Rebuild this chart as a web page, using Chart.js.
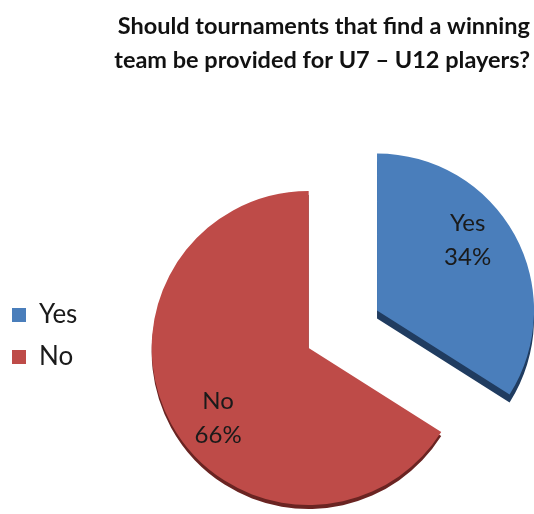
<!DOCTYPE html>
<html lang="en">
<head>
  <meta charset="UTF-8">
  <title>Winning team tournaments U7 - U12</title>
  <script src="https://cdn.jsdelivr.net/npm/chart.js"></script>
  <style>
    html, body { margin: 0; padding: 0; background: #fff; }
  </style>
</head>
<body>
  <div style="width: 534px; height: 514px;">
    <canvas id="pieChart"></canvas>
  </div>

  <script>
    const titleLines = ['Should tournaments that find a winning', 'team be provided for U7 \u2013 U12 players?'];
    const categories = ['Yes', 'No'];
    const answers = [34, 66];
    const sliceColors = ['#4a7ebb', '#be4b48'];
    const edgeColors = ['#203c60', '#6a2422'];

    // pulls the slices apart and gives them a bit of depth
    const explodePlugin = {
      id: 'explode',
      beforeDatasetDraw(chart, args, opts) {
        const ctx = chart.ctx;
        const arcs = chart.getDatasetMeta(args.index).data;
        arcs.forEach((arc, i) => {
          const mid = (arc.startAngle + arc.endAngle) / 2;
          const d = opts.distance[i] || 0;
          ctx.save();
          ctx.translate(Math.cos(mid) * d, Math.sin(mid) * d);
          ctx.shadowColor = edgeColors[i];
          ctx.shadowOffsetY = opts.depth[i];
          ctx.shadowBlur = 0;
          arc.draw(ctx);
          ctx.restore();
        });
        return false;
      },
      afterDatasetsDraw(chart, args, opts) {
        const ctx = chart.ctx;
        const arcs = chart.getDatasetMeta(0).data;
        const total = answers.reduce((a, b) => a + b, 0);
        ctx.save();
        ctx.font = '24px Lato';
        ctx.fillStyle = '#1a1a1a';
        ctx.textAlign = 'center';
        ctx.textBaseline = 'middle';
        arcs.forEach((arc, i) => {
          const mid = (arc.startAngle + arc.endAngle) / 2;
          const d = opts.distance[i] || 0;
          const a = mid + opts.labelTurn;
          const r = arc.outerRadius * 0.73;
          const x = arc.x + Math.cos(mid) * d + Math.cos(a) * r;
          const y = arc.y + Math.sin(mid) * d + Math.sin(a) * r;
          const pct = Math.round(answers[i] / total * 100) + '%';
          ctx.fillText(categories[i], x, y - 17);
          ctx.fillText(pct, x, y + 17);
        });
        ctx.restore();
      }
    };

    const data = {
      labels: categories,
      datasets: [{
        data: answers,
        backgroundColor: sliceColors,
        borderWidth: 0
      }]
    };

    const config = {
      type: 'pie',
      data: data,
      plugins: [explodePlugin],
      options: {
        responsive: true,
        maintainAspectRatio: false,
        animation: false,
        radius: 157,
        layout: {
          padding: { left: -4, right: 4, top: 0, bottom: 0 }
        },
        plugins: {
          explode: {
            distance: [78, 0],
            depth: [8, 4],
            labelTurn: -9 * Math.PI / 180
          },
          title: {
            display: true,
            text: titleLines,
            align: 'end',
            color: '#111',
            font: { family: 'Lato', size: 23.5, weight: 'bold', lineHeight: '34px' },
            padding: { top: 9, bottom: 105 }
          },
          legend: {
            position: 'left',
            align: 'start',
            fullSize: false,
            title: {
              display: true,
              text: ' ',
              font: { size: 10, lineHeight: 1 },
              padding: { top: 0, bottom: 94 }
            },
            labels: {
              boxWidth: 14,
              boxHeight: 14,
              padding: 16,
              color: '#1a1a1a',
              font: { family: 'Lato', size: 26 }
            }
          },
          tooltip: { enabled: false }
        }
      }
    };

    new Chart(document.getElementById('pieChart'), config);
  </script>
</body>
</html>
